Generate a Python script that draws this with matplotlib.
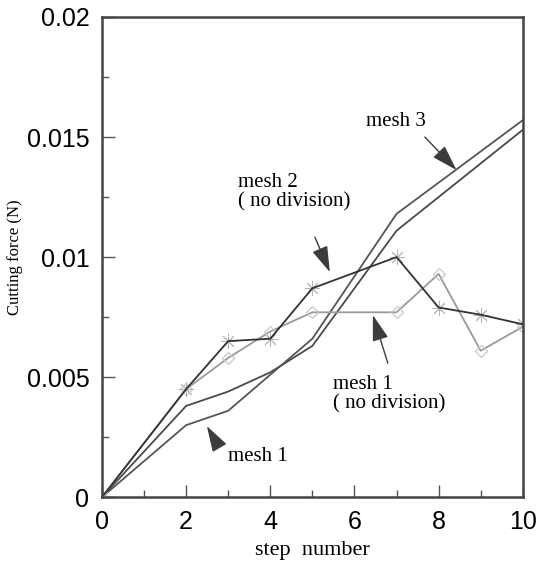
"""
Cutting force vs step number for the four meshes.
"""

import matplotlib
matplotlib.use('Agg')
import matplotlib.pyplot as plt
from matplotlib.ticker import MultipleLocator

# ── Data ──────────────────────────────────────────────────────────────────────
steps_smooth = [0, 2, 3, 4, 5, 7, 10]
force_mesh1 = [0, 0.0038, 0.0044, 0.0052, 0.0063, 0.0111, 0.0153]
force_mesh3 = [0, 0.0030, 0.0036, 0.0051, 0.0066, 0.0118, 0.0157]

steps_nodiv = [0, 2, 3, 4, 5, 7, 8, 9, 10]
force_mesh2_nodiv = [0, 0.0045, 0.0065, 0.0066, 0.0087, 0.0100, 0.0079, 0.0076, 0.0072]
force_mesh1_nodiv = [0, 0.0045, 0.0058, 0.0069, 0.0077, 0.0077, 0.0093, 0.0061, 0.0071]

x_ticks = [0, 2, 4, 6, 8, 10]
y_ticks = [0, 0.005, 0.01, 0.015, 0.02]
y_tick_labels = ['0', '0.005', '0.01', '0.015', '0.02']

SERIF = ['Liberation Serif', 'DejaVu Serif']
SANS = ['Liberation Sans', 'DejaVu Sans']

# ── Figure ────────────────────────────────────────────────────────────────────
fig = plt.figure(figsize=(5.48, 5.65), dpi=100)
ax = fig.add_axes([0.186, 0.120, 0.768, 0.850])

ax.plot(steps_smooth, force_mesh1, color='#4a4a4a', lw=1.3)
ax.plot(steps_smooth, force_mesh3, color='#555555', lw=1.3)
ax.plot(steps_nodiv, force_mesh1_nodiv, color='#9a9a9a', lw=1.3,
        marker='D', ms=6, mfc='none', mec='#c8c8c8', mew=0.9)
# markers first, line on top (dark line runs through the light asterisks)
ax.plot(steps_nodiv, force_mesh2_nodiv, ls='none',
        marker=(8, 2, 0), ms=11, mec='#b4b4b4', mew=0.7)
ax.plot(steps_nodiv, force_mesh2_nodiv, color='#333333', lw=1.3)

ax.set_xlim(0, 10)
ax.set_ylim(0, 0.02)
ax.set_xticks(x_ticks)
ax.set_yticks(y_ticks)
ax.set_yticklabels(y_tick_labels)
ax.xaxis.set_minor_locator(MultipleLocator(1))
ax.yaxis.set_minor_locator(MultipleLocator(0.0025))
ax.tick_params(which='both', direction='in', top=False, right=False,
               color='#555555', width=1.0)
ax.tick_params(which='major', length=9, pad=9, labelsize=18)
ax.tick_params(which='minor', length=5)
for lab in ax.get_xticklabels() + ax.get_yticklabels():
    lab.set_family(SANS)
for sp in ax.spines.values():
    sp.set_linewidth(1.8)
    sp.set_color('#444444')

ax.set_xlabel('step  number', family=SERIF, fontsize=16, labelpad=5)
ax.set_ylabel('Cutting force (N)', family=SERIF, fontsize=12)
ax.yaxis.set_label_coords(-0.188, 0.5)

# ── Annotations ───────────────────────────────────────────────────────────────
arrow = dict(arrowstyle='-|>,head_length=1.6,head_width=0.5',
             mutation_scale=10, color='#3c3c3c', lw=1.0,
             shrinkA=0, shrinkB=0)
txt = dict(family=SERIF, fontsize=15, ha='left', va='top', linespacing=1.0)

ax.text(6.27, 0.01604, 'mesh 3', **txt)
ax.annotate('', xy=(8.425, 0.013625), xytext=(7.672, 0.0150), arrowprops=arrow)

ax.text(3.23, 0.0135, 'mesh 2\n( no division)', **txt)
ax.annotate('', xy=(5.416, 0.009375), xytext=(5.06, 0.01083), arrowprops=arrow)

ax.text(5.49, 0.00508, 'mesh 1\n( no division)', **txt)
ax.annotate('', xy=(6.437, 0.007583), xytext=(6.793, 0.005583), arrowprops=arrow)

ax.text(2.99, 0.00208, 'mesh 1', **txt)
ax.annotate('', xy=(2.494, 0.00296), xytext=(2.779, 0.0021), arrowprops=arrow)

fig.savefig('out.png', dpi=100)
